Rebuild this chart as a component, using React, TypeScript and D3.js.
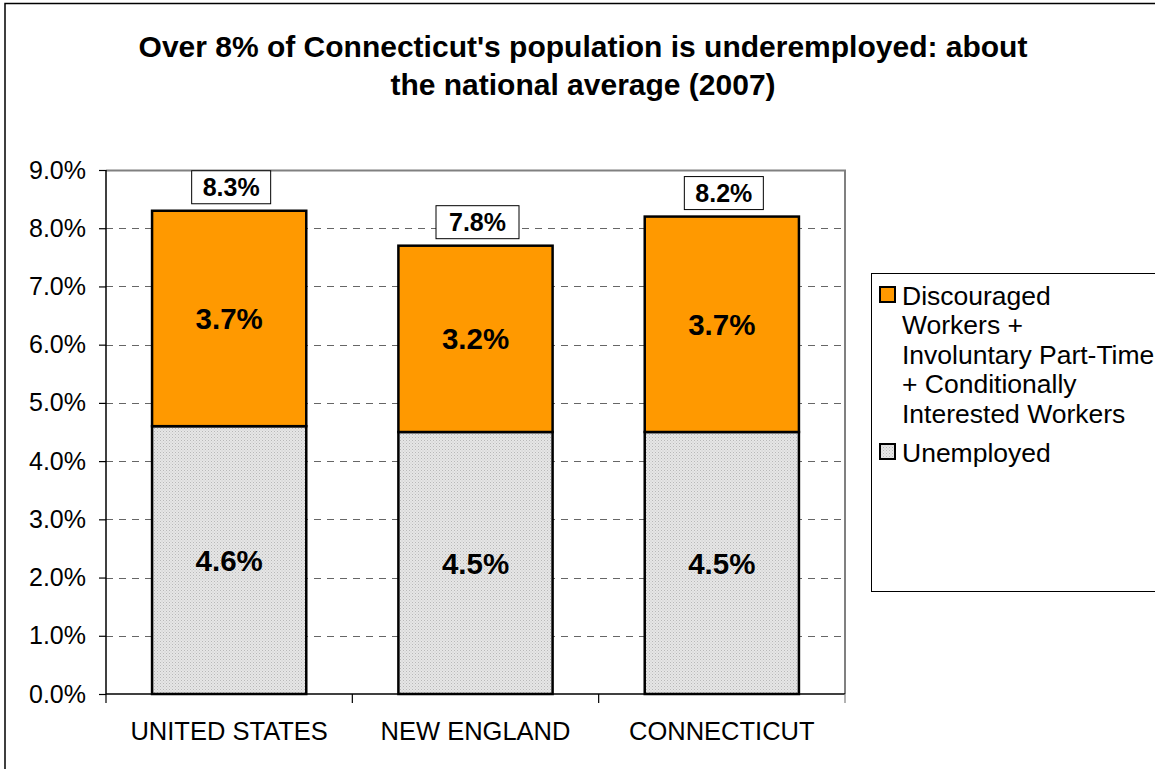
import React, { useRef, useEffect } from "react";
import * as d3 from "d3";

// Data
const categories = ["UNITED STATES", "NEW ENGLAND", "CONNECTICUT"];
const unemployed = [4.6, 4.5, 4.5];
const discouraged = [3.7, 3.2, 3.7];
const totalLabels = ["8.3%", "7.8%", "8.2%"];
const yTicks = [0, 1, 2, 3, 4, 5, 6, 7, 8, 9];
const seriesNames = [
  "Discouraged|Workers +|Involuntary Part-Time|+ Conditionally|Interested Workers",
  "Unemployed",
];

const FONT = "'Liberation Sans', Arial, sans-serif";

const App: React.FC = () => {
  const svgRef = useRef<SVGSVGElement | null>(null);

  useEffect(() => {
    if (!svgRef.current) return;
    const width = 1155;
    const height = 769;
    const margin = { top: 170, left: 106, right: 310, bottom: 75 };
    const chartWidth = width - margin.left - margin.right;
    const chartHeight = height - margin.top - margin.bottom;

    const root = d3.select(svgRef.current).attr("width", width).attr("height", height);
    root.selectAll("*").remove();

    // Pattern for unemployed
    const defs = root.append("defs");
    const pat = defs
      .append("pattern")
      .attr("id", "dots")
      .attr("width", 3)
      .attr("height", 3)
      .attr("patternUnits", "userSpaceOnUse");
    pat.append("rect").attr("width", 3).attr("height", 3).attr("fill", "#e6e6e6");
    pat.append("rect").attr("width", 1).attr("height", 1).attr("fill", "#b8b8b8");
    pat.append("rect").attr("x", 1.5).attr("y", 1.5).attr("width", 1).attr("height", 1).attr("fill", "#c8c8c8");

    // Outer border
    root
      .append("rect")
      .attr("x", 5)
      .attr("y", 3.5)
      .attr("width", width + 10)
      .attr("height", height + 10)
      .attr("fill", "white")
      .attr("stroke", "black")
      .attr("stroke-width", 1.5);

    // Title
    const title = root
      .append("text")
      .attr("x", 583)
      .attr("text-anchor", "middle")
      .style("font-family", FONT)
      .style("font-weight", "bold")
      .style("font-size", "30px");
    title.append("tspan").attr("x", 583).attr("y", 57).text("Over 8% of Connecticut's population is underemployed: about");
    title.append("tspan").attr("x", 583).attr("y", 95).text("the national average (2007)");

    const svg = root.append("g").attr("transform", `translate(${margin.left},${margin.top})`);

    const xScale = d3.scaleBand().domain(categories).range([0, chartWidth]).paddingInner(0.374).paddingOuter(0.187);
    const yScale = d3.scaleLinear().domain([0, 9]).range([chartHeight, 0]);

    // Gridlines
    svg
      .append("g")
      .selectAll("line")
      .data(yTicks.filter((t) => t > 0 && t < 9))
      .enter()
      .append("line")
      .attr("x1", 0)
      .attr("x2", chartWidth)
      .attr("y1", (d) => Math.round(yScale(d)) + 0.5)
      .attr("y2", (d) => Math.round(yScale(d)) + 0.5)
      .attr("stroke", "#666")
      .attr("stroke-width", 1.2)
      .attr("stroke-dasharray", "7,6");

    // Frame (top & right gray)
    svg
      .append("path")
      .attr("d", `M0,0.5H${chartWidth}V${chartHeight}`)
      .attr("fill", "none")
      .attr("stroke", "#808080")
      .attr("stroke-width", 2);

    // Bars
    const bars = svg.append("g");
    categories.forEach((c, i) => {
      const x = xScale(c)!;
      const w = xScale.bandwidth();
      bars
        .append("rect")
        .attr("x", x)
        .attr("y", yScale(unemployed[i]))
        .attr("width", w)
        .attr("height", yScale(0) - yScale(unemployed[i]))
        .attr("fill", "url(#dots)")
        .attr("stroke", "black")
        .attr("stroke-width", 2.5);
      bars
        .append("rect")
        .attr("x", x)
        .attr("y", yScale(unemployed[i] + discouraged[i]))
        .attr("width", w)
        .attr("height", yScale(unemployed[i]) - yScale(unemployed[i] + discouraged[i]))
        .attr("fill", "#ff9900")
        .attr("stroke", "black")
        .attr("stroke-width", 2.5);
      // segment labels
      bars
        .append("text")
        .attr("x", x + w / 2)
        .attr("y", (yScale(0) + yScale(unemployed[i])) / 2 + 10.5)
        .attr("text-anchor", "middle")
        .style("font-family", FONT)
        .style("font-weight", "bold")
        .style("font-size", "29.5px")
        .text(`${unemployed[i].toFixed(1)}%`);
      bars
        .append("text")
        .attr("x", x + w / 2)
        .attr("y", (yScale(unemployed[i]) + yScale(unemployed[i] + discouraged[i])) / 2 + 10.5)
        .attr("text-anchor", "middle")
        .style("font-family", FONT)
        .style("font-weight", "bold")
        .style("font-size", "29.5px")
        .text(`${discouraged[i].toFixed(1)}%`);
      // total label boxes
      const top = yScale(unemployed[i] + discouraged[i]);
      const bw = i === 1 ? 83 : 79;
      const bh = 33;
      bars
        .append("rect")
        .attr("x", x + w / 2 - bw / 2 + 2)
        .attr("y", top - 7 - bh)
        .attr("width", bw)
        .attr("height", bh)
        .attr("fill", "white")
        .attr("stroke", "black")
        .attr("stroke-width", 1);
      bars
        .append("text")
        .attr("x", x + w / 2 + 2)
        .attr("y", top - 7 - bh / 2 + 9)
        .attr("text-anchor", "middle")
        .style("font-family", FONT)
        .style("font-weight", "bold")
        .style("font-size", "25px")
        .text(totalLabels[i]);
    });

    // Y axis
    const yAxis = svg
      .append("g")
      .call(
        d3
          .axisLeft(yScale)
          .tickValues(yTicks)
          .tickSize(7)
          .tickPadding(13)
          .tickFormat((d) => `${(d as number).toFixed(1)}%`)
      );
    yAxis.select(".domain").attr("stroke", "black").attr("stroke-width", 1.5).attr("d", `M0,0V${chartHeight}`);
    yAxis.selectAll(".tick line").attr("stroke", "black").attr("stroke-width", 1.2).attr("x2", -7).attr("x1", 0);
    yAxis
      .selectAll(".tick text")
      .attr("fill", "black")
      .style("font-family", FONT)
      .style("font-size", "25px");

    // X axis
    const xAxis = svg.append("g").attr("transform", `translate(0,${chartHeight})`);
    xAxis
      .append("line")
      .attr("x1", 0)
      .attr("x2", chartWidth)
      .attr("stroke", "black")
      .attr("stroke-width", 1.5);
    const step = xScale.step();
    xAxis
      .selectAll(".xtick")
      .data(d3.range(categories.length + 1))
      .enter()
      .append("line")
      .attr("x1", (d) => d * step)
      .attr("x2", (d) => d * step)
      .attr("y1", 0)
      .attr("y2", 9)
      .attr("stroke", (d) => (d === categories.length ? "#808080" : "black"))
      .attr("stroke-width", 1.2);
    xAxis
      .selectAll(".xlabel")
      .data(categories)
      .enter()
      .append("text")
      .attr("x", (d) => xScale(d)! + xScale.bandwidth() / 2)
      .attr("y", 46)
      .attr("text-anchor", "middle")
      .style("font-family", FONT)
      .style("font-size", "25.5px")
      .text((d) => d);

    // Legend
    const legend = root.append("g").attr("transform", "translate(871,273)");
    legend
      .append("rect")
      .attr("x", 0.5)
      .attr("y", 0.5)
      .attr("width", 300)
      .attr("height", 318)
      .attr("fill", "white")
      .attr("stroke", "black")
      .attr("stroke-width", 1);
    const fills = ["#ff9900", "url(#dots)"];
    const entryY = [22, 179];
    seriesNames.forEach((name, i) => {
      legend
        .append("rect")
        .attr("x", 9)
        .attr("y", entryY[i] - 8)
        .attr("width", 15)
        .attr("height", 15)
        .attr("fill", fills[i])
        .attr("stroke", "black")
        .attr("stroke-width", 2);
      const t = legend
        .append("text")
        .style("font-family", FONT)
        .style("font-size", "26.5px");
      name.split("|").forEach((line, j) => {
        t.append("tspan")
          .attr("x", 31)
          .attr("y", entryY[i] + 9.5 + j * 29.5)
          .text(line);
      });
    });
  }, []);

  return (
    <svg
      ref={svgRef}
      style={{ position: "absolute", left: 0, top: 0, display: "block", background: "white" }}
    />
  );
};

export default App;
